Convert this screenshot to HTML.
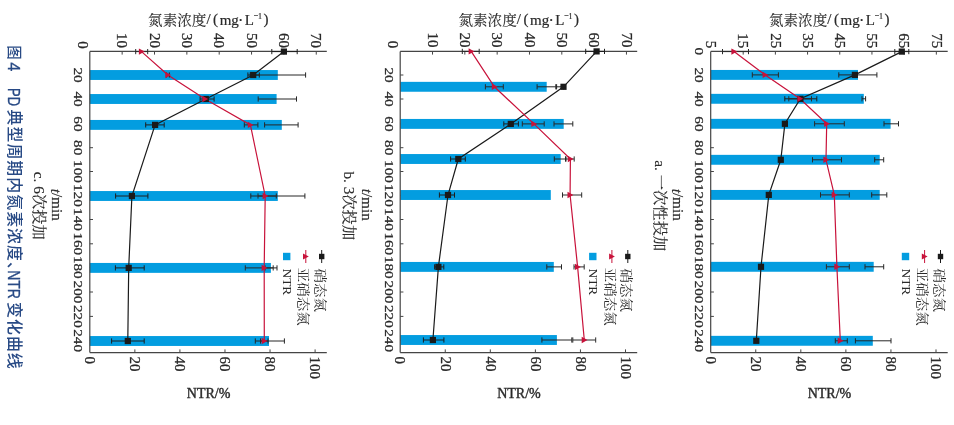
<!DOCTYPE html>
<html><head><meta charset="utf-8"><title>图4 PD典型周期内氮素浓度、NTR变化曲线</title>
<style>
html,body{margin:0;padding:0;background:#fff;}
body{width:954px;height:425px;overflow:hidden;position:relative;}
svg{position:absolute;left:0;top:0;display:block;filter:blur(0.35px);}
</style></head>
<body>
<svg width="954" height="425" viewBox="0 0 954 425">
<rect width="954" height="425" fill="#ffffff"/>
<text transform="translate(13.9,45.3) rotate(90)" dominant-baseline="central" font-size="14.5" font-weight="500" font-family='"Liberation Sans", "Noto Sans CJK SC", sans-serif' fill="#284a85">图</text>
<text transform="translate(14.4,62.3) rotate(90)" dominant-baseline="central" font-size="16.5" stroke="#284a85" stroke-width="0.35" font-family='"Liberation Sans", "Noto Sans CJK SC", sans-serif' fill="#284a85">4</text>
<text transform="translate(14.4,88.0) rotate(90)" dominant-baseline="central" font-size="16.5" stroke="#284a85" stroke-width="0.35" textLength="18" lengthAdjust="spacingAndGlyphs" font-family='"Liberation Sans", "Noto Sans CJK SC", sans-serif' fill="#284a85">PD</text>
<text transform="translate(14.2,109.5) rotate(90)" dominant-baseline="central" font-size="15.9" font-weight="500" letter-spacing="1.05" font-family='"Liberation Sans", "Noto Sans CJK SC", sans-serif' fill="#284a85">典型周期内氮素浓度、</text>
<text transform="translate(14.4,270.2) rotate(90)" dominant-baseline="central" font-size="16.5" stroke="#284a85" stroke-width="0.35" textLength="28.5" lengthAdjust="spacingAndGlyphs" font-family='"Liberation Sans", "Noto Sans CJK SC", sans-serif' fill="#284a85">NTR</text>
<text transform="translate(14.2,302.0) rotate(90)" dominant-baseline="central" font-size="15.9" font-weight="500" letter-spacing="1.05" font-family='"Liberation Sans", "Noto Sans CJK SC", sans-serif' fill="#284a85">变化曲线</text>
<path d="M122.15,51.4v3.2M154.5,51.4v3.2M186.85,51.4v3.2M219.2,51.4v3.2M251.55,51.4v3.2M283.9,51.4v3.2M316.25,51.4v3.2M89.8,75h3.2M89.8,99h3.2M89.8,123.9h3.2M89.8,147.7h3.2M89.8,171.5h3.2M89.8,195.4h3.2M89.8,219.5h3.2M89.8,243.8h3.2M89.8,267.3h3.2M89.8,292h3.2M89.8,316.4h3.2M89.8,340.6h3.2M134.86,352.6v-3.2M179.92,352.6v-3.2M224.98,352.6v-3.2M270.04,352.6v-3.2M315.1,352.6v-3.2" stroke="#454545" stroke-width="1" fill="none"/>
<rect x="89.8" y="70.05" width="188" height="9.9" fill="#039de0"/>
<rect x="89.8" y="94.05" width="186.8" height="9.9" fill="#039de0"/>
<rect x="89.8" y="119.95" width="192" height="9.9" fill="#039de0"/>
<rect x="89.8" y="191.05" width="188" height="9.9" fill="#039de0"/>
<rect x="89.8" y="262.95" width="181.1" height="9.9" fill="#039de0"/>
<rect x="89.8" y="336.05" width="179.2" height="9.9" fill="#039de0"/>
<path d="M250.2,75H305.6M250.2,72.4V77.6M305.6,72.4V77.6" stroke="#262626" stroke-width="1.0" fill="none"/>
<path d="M258.2,99H296.5M258.2,96.4V101.6M296.5,96.4V101.6" stroke="#262626" stroke-width="1.0" fill="none"/>
<path d="M264.6,124.9H298.1M264.6,122.3V127.5M298.1,122.3V127.5" stroke="#262626" stroke-width="1.0" fill="none"/>
<path d="M250.8,196H304.9M250.8,193.4V198.6M304.9,193.4V198.6" stroke="#262626" stroke-width="1.0" fill="none"/>
<path d="M265,267.9H277M265,265.3V270.5M277,265.3V270.5" stroke="#262626" stroke-width="1.0" fill="none"/>
<path d="M255.3,341H284.4M255.3,338.4V343.6M284.4,338.4V343.6" stroke="#262626" stroke-width="1.0" fill="none"/>
<path d="M89.8,51.4H326.8M89.8,352.6H326.8M89.8,51.4V352.6" stroke="#454545" stroke-width="1.2" fill="none"/>
<text transform="translate(122.15,48) rotate(90) scale(1.1,1)" text-anchor="end" dominant-baseline="central" font-size="13.6" font-family='"Liberation Serif", "Noto Serif CJK SC", serif' fill="#2a2a2a" stroke="#2a2a2a" stroke-width="0.25">10</text>
<text transform="translate(154.5,48) rotate(90) scale(1.1,1)" text-anchor="end" dominant-baseline="central" font-size="13.6" font-family='"Liberation Serif", "Noto Serif CJK SC", serif' fill="#2a2a2a" stroke="#2a2a2a" stroke-width="0.25">20</text>
<text transform="translate(186.85,48) rotate(90) scale(1.1,1)" text-anchor="end" dominant-baseline="central" font-size="13.6" font-family='"Liberation Serif", "Noto Serif CJK SC", serif' fill="#2a2a2a" stroke="#2a2a2a" stroke-width="0.25">30</text>
<text transform="translate(219.2,48) rotate(90) scale(1.1,1)" text-anchor="end" dominant-baseline="central" font-size="13.6" font-family='"Liberation Serif", "Noto Serif CJK SC", serif' fill="#2a2a2a" stroke="#2a2a2a" stroke-width="0.25">40</text>
<text transform="translate(251.55,48) rotate(90) scale(1.1,1)" text-anchor="end" dominant-baseline="central" font-size="13.6" font-family='"Liberation Serif", "Noto Serif CJK SC", serif' fill="#2a2a2a" stroke="#2a2a2a" stroke-width="0.25">50</text>
<text transform="translate(283.9,48) rotate(90) scale(1.1,1)" text-anchor="end" dominant-baseline="central" font-size="13.6" font-family='"Liberation Serif", "Noto Serif CJK SC", serif' fill="#2a2a2a" stroke="#2a2a2a" stroke-width="0.25">60</text>
<text transform="translate(316.25,48) rotate(90) scale(1.1,1)" text-anchor="end" dominant-baseline="central" font-size="13.6" font-family='"Liberation Serif", "Noto Serif CJK SC", serif' fill="#2a2a2a" stroke="#2a2a2a" stroke-width="0.25">70</text>
<text transform="translate(82.4,48.8) rotate(90) scale(1.1,1)" text-anchor="end" dominant-baseline="central" font-size="13.6" font-family='"Liberation Serif", "Noto Serif CJK SC", serif' fill="#2a2a2a" stroke="#2a2a2a" stroke-width="0.25">0</text>
<text transform="translate(78.9,75) rotate(90) scale(1.135,1)" text-anchor="middle" dominant-baseline="central" font-size="13.4" font-family='"Liberation Serif", "Noto Serif CJK SC", serif' fill="#2a2a2a" stroke="#2a2a2a" stroke-width="0.25">20</text>
<text transform="translate(78.9,99) rotate(90) scale(1.135,1)" text-anchor="middle" dominant-baseline="central" font-size="13.4" font-family='"Liberation Serif", "Noto Serif CJK SC", serif' fill="#2a2a2a" stroke="#2a2a2a" stroke-width="0.25">40</text>
<text transform="translate(78.9,123.9) rotate(90) scale(1.135,1)" text-anchor="middle" dominant-baseline="central" font-size="13.4" font-family='"Liberation Serif", "Noto Serif CJK SC", serif' fill="#2a2a2a" stroke="#2a2a2a" stroke-width="0.25">60</text>
<text transform="translate(78.9,147.7) rotate(90) scale(1.135,1)" text-anchor="middle" dominant-baseline="central" font-size="13.4" font-family='"Liberation Serif", "Noto Serif CJK SC", serif' fill="#2a2a2a" stroke="#2a2a2a" stroke-width="0.25">80</text>
<text transform="translate(78.9,171.5) rotate(90) scale(1.135,1)" text-anchor="middle" dominant-baseline="central" font-size="13.4" font-family='"Liberation Serif", "Noto Serif CJK SC", serif' fill="#2a2a2a" stroke="#2a2a2a" stroke-width="0.25">100</text>
<text transform="translate(78.9,195.4) rotate(90) scale(1.135,1)" text-anchor="middle" dominant-baseline="central" font-size="13.4" font-family='"Liberation Serif", "Noto Serif CJK SC", serif' fill="#2a2a2a" stroke="#2a2a2a" stroke-width="0.25">120</text>
<text transform="translate(78.9,219.5) rotate(90) scale(1.135,1)" text-anchor="middle" dominant-baseline="central" font-size="13.4" font-family='"Liberation Serif", "Noto Serif CJK SC", serif' fill="#2a2a2a" stroke="#2a2a2a" stroke-width="0.25">140</text>
<text transform="translate(78.9,243.8) rotate(90) scale(1.135,1)" text-anchor="middle" dominant-baseline="central" font-size="13.4" font-family='"Liberation Serif", "Noto Serif CJK SC", serif' fill="#2a2a2a" stroke="#2a2a2a" stroke-width="0.25">160</text>
<text transform="translate(78.9,267.3) rotate(90) scale(1.135,1)" text-anchor="middle" dominant-baseline="central" font-size="13.4" font-family='"Liberation Serif", "Noto Serif CJK SC", serif' fill="#2a2a2a" stroke="#2a2a2a" stroke-width="0.25">180</text>
<text transform="translate(78.9,292) rotate(90) scale(1.135,1)" text-anchor="middle" dominant-baseline="central" font-size="13.4" font-family='"Liberation Serif", "Noto Serif CJK SC", serif' fill="#2a2a2a" stroke="#2a2a2a" stroke-width="0.25">200</text>
<text transform="translate(78.9,316.4) rotate(90) scale(1.135,1)" text-anchor="middle" dominant-baseline="central" font-size="13.4" font-family='"Liberation Serif", "Noto Serif CJK SC", serif' fill="#2a2a2a" stroke="#2a2a2a" stroke-width="0.25">220</text>
<text transform="translate(78.9,340.6) rotate(90) scale(1.135,1)" text-anchor="middle" dominant-baseline="central" font-size="13.4" font-family='"Liberation Serif", "Noto Serif CJK SC", serif' fill="#2a2a2a" stroke="#2a2a2a" stroke-width="0.25">240</text>
<text transform="translate(89.8,356.6) rotate(90) scale(1.1,1)" text-anchor="start" dominant-baseline="central" font-size="13.6" font-family='"Liberation Serif", "Noto Serif CJK SC", serif' fill="#2a2a2a" stroke="#2a2a2a" stroke-width="0.25">0</text>
<text transform="translate(134.86,356.6) rotate(90) scale(1.1,1)" text-anchor="start" dominant-baseline="central" font-size="13.6" font-family='"Liberation Serif", "Noto Serif CJK SC", serif' fill="#2a2a2a" stroke="#2a2a2a" stroke-width="0.25">20</text>
<text transform="translate(179.92,356.6) rotate(90) scale(1.1,1)" text-anchor="start" dominant-baseline="central" font-size="13.6" font-family='"Liberation Serif", "Noto Serif CJK SC", serif' fill="#2a2a2a" stroke="#2a2a2a" stroke-width="0.25">40</text>
<text transform="translate(224.98,356.6) rotate(90) scale(1.1,1)" text-anchor="start" dominant-baseline="central" font-size="13.6" font-family='"Liberation Serif", "Noto Serif CJK SC", serif' fill="#2a2a2a" stroke="#2a2a2a" stroke-width="0.25">60</text>
<text transform="translate(270.04,356.6) rotate(90) scale(1.1,1)" text-anchor="start" dominant-baseline="central" font-size="13.6" font-family='"Liberation Serif", "Noto Serif CJK SC", serif' fill="#2a2a2a" stroke="#2a2a2a" stroke-width="0.25">80</text>
<text transform="translate(315.1,356.6) rotate(90) scale(1.1,1)" text-anchor="start" dominant-baseline="central" font-size="13.6" font-family='"Liberation Serif", "Noto Serif CJK SC", serif' fill="#2a2a2a" stroke="#2a2a2a" stroke-width="0.25">100</text>
<path d="M283.9,51.6L253.2,75L205.8,99L155.1,124.9L131.9,196L128.7,267.9L127.8,341" stroke="#1a1a1a" stroke-width="1.2" fill="none"/>
<path d="M141.5,51.6L167.9,75L205,99L250.4,124.9L265.2,196L264.2,267.9L264.3,341" stroke="#c8123a" stroke-width="1.2" fill="none"/>
<path d="M271.8,51.6H297.2M271.8,49V54.2M297.2,49V54.2" stroke="#1e1e1e" stroke-width="1.0" fill="none"/>
<path d="M247.9,75H259.3M247.9,72.4V77.6M259.3,72.4V77.6" stroke="#1e1e1e" stroke-width="1.0" fill="none"/>
<path d="M200.1,99H214.1M200.1,96.4V101.6M214.1,96.4V101.6" stroke="#1e1e1e" stroke-width="1.0" fill="none"/>
<path d="M145.7,124.9H164.2M145.7,122.3V127.5M164.2,122.3V127.5" stroke="#1e1e1e" stroke-width="1.0" fill="none"/>
<path d="M115.6,196H147.9M115.6,193.4V198.6M147.9,193.4V198.6" stroke="#1e1e1e" stroke-width="1.0" fill="none"/>
<path d="M115.4,267.9H144.2M115.4,265.3V270.5M144.2,265.3V270.5" stroke="#1e1e1e" stroke-width="1.0" fill="none"/>
<path d="M111.6,341H144.2M111.6,338.4V343.6M144.2,338.4V343.6" stroke="#1e1e1e" stroke-width="1.0" fill="none"/>
<path d="M135.7,51.6H147.7M135.7,49V54.2M147.7,49V54.2" stroke="#2a2a2a" stroke-width="1.0" fill="none"/>
<path d="M166.4,75H169.4M166.4,72.4V77.6M169.4,72.4V77.6" stroke="#2a2a2a" stroke-width="1.0" fill="none"/>
<path d="M244.3,124.9H257.9M244.3,122.3V127.5M257.9,122.3V127.5" stroke="#2a2a2a" stroke-width="1.0" fill="none"/>
<path d="M258,196H276.3M258,193.4V198.6M276.3,193.4V198.6" stroke="#2a2a2a" stroke-width="1.0" fill="none"/>
<path d="M245.3,267.9H273.2M245.3,265.3V270.5M273.2,265.3V270.5" stroke="#2a2a2a" stroke-width="1.0" fill="none"/>
<path d="M260.5,341H268M260.5,338.4V343.6M268,338.4V343.6" stroke="#2a2a2a" stroke-width="1.0" fill="none"/>
<rect x="280.8" y="48.5" width="6.2" height="6.2" fill="#1a1a1a"/>
<rect x="250.1" y="71.9" width="6.2" height="6.2" fill="#1a1a1a"/>
<rect x="202.7" y="95.9" width="6.2" height="6.2" fill="#1a1a1a"/>
<rect x="152" y="121.8" width="6.2" height="6.2" fill="#1a1a1a"/>
<rect x="128.8" y="192.9" width="6.2" height="6.2" fill="#1a1a1a"/>
<rect x="125.6" y="264.8" width="6.2" height="6.2" fill="#1a1a1a"/>
<rect x="124.7" y="337.9" width="6.2" height="6.2" fill="#1a1a1a"/>
<path d="M144.7,51.6L138.9,48.4L138.9,54.8Z" fill="#c8123a"/>
<path d="M171.1,75L165.3,71.8L165.3,78.2Z" fill="#c8123a"/>
<path d="M208.2,99L202.4,95.8L202.4,102.2Z" fill="#c8123a"/>
<path d="M253.6,124.9L247.8,121.7L247.8,128.1Z" fill="#c8123a"/>
<path d="M268.4,196L262.6,192.8L262.6,199.2Z" fill="#c8123a"/>
<path d="M267.4,267.9L261.6,264.7L261.6,271.1Z" fill="#c8123a"/>
<path d="M267.5,341L261.7,337.8L261.7,344.2Z" fill="#c8123a"/>
<path d="M321.7,250V263" stroke="#1a1a1a" stroke-width="1"/>
<rect x="319" y="253.8" width="5.4" height="5.4" fill="#1a1a1a"/>
<path d="M305.8,250V263" stroke="#c8123a" stroke-width="1"/>
<path d="M308.8,256.5L303,253.5L303,259.5Z" fill="#c8123a"/>
<rect x="283" y="252.8" width="7.4" height="7.4" fill="#039de0"/>
<text transform="translate(320.2,268.5) rotate(90) scale(1.15,1)" text-anchor="start" dominant-baseline="central" font-size="12.6" font-family='"Liberation Serif", "Noto Serif CJK SC", serif' fill="#2a2a2a">硝态氮</text>
<text transform="translate(303.6,267.8) rotate(90) scale(1.15,1)" text-anchor="start" dominant-baseline="central" font-size="12.6" font-family='"Liberation Serif", "Noto Serif CJK SC", serif' fill="#2a2a2a">亚硝态氮</text>
<text transform="translate(286.7,268.5) rotate(90) scale(1.1,1)" text-anchor="start" dominant-baseline="central" font-size="12.2" font-family='"Liberation Serif", "Noto Serif CJK SC", serif' fill="#2a2a2a">NTR</text>
<text fill="#2a2a2a" stroke="#2a2a2a" stroke-width="0.2"><tspan x="206.4" y="24.3" font-size="15" font-family='"Liberation Serif", "Noto Serif CJK SC", serif'>/</tspan><tspan x="213" y="23.9" font-size="15" font-family='"Liberation Serif", "Noto Serif CJK SC", serif'>(</tspan><tspan x="219.7" y="24.9" font-size="15" font-family='"Liberation Serif", "Noto Serif CJK SC", serif'>mg</tspan><tspan x="238.1" y="26.2" font-size="16" font-family='"Liberation Serif", "Noto Serif CJK SC", serif'>·</tspan><tspan x="244.8" y="24.9" font-size="15" font-family='"Liberation Serif", "Noto Serif CJK SC", serif'>L</tspan><tspan x="253.8" y="18.4" font-size="8" font-family='"Liberation Serif", "Noto Serif CJK SC", serif'>−</tspan><tspan x="258" y="19" font-size="8" font-family='"Liberation Serif", "Noto Serif CJK SC", serif'>1</tspan><tspan x="263.5" y="23.9" font-size="15" font-family='"Liberation Serif", "Noto Serif CJK SC", serif'>)</tspan></text>
<text transform="translate(148.1,24.9) scale(1.07,1)" font-size="13.6" font-family='"Liberation Serif", "Noto Serif CJK SC", serif' fill="#2a2a2a" stroke="#2a2a2a" stroke-width="0.1">氮素浓度</text>
<text x="186.8" y="397.8" font-size="14.4" stroke="#2a2a2a" stroke-width="0.4" textLength="43.6" lengthAdjust="spacingAndGlyphs" font-family='"Liberation Serif", "Noto Serif CJK SC", serif' fill="#2a2a2a">NTR/%</text>
<text transform="translate(57.3,204.7) rotate(90)" text-anchor="middle" dominant-baseline="central" font-size="15.2" font-family='"Liberation Serif", "Noto Serif CJK SC", serif' fill="#2a2a2a" stroke="#2a2a2a" stroke-width="0.2"><tspan font-style="italic">t</tspan>/min</text>
<text transform="translate(39.5,205.8) rotate(90)" text-anchor="middle" dominant-baseline="central" font-size="15.3" font-family='"Liberation Serif", "Noto Serif CJK SC", serif' fill="#2a2a2a" stroke="#2a2a2a" stroke-width="0.15">c. 6次投加</text>
<path d="M432.52,51.4v3.2M464.84,51.4v3.2M497.16,51.4v3.2M529.48,51.4v3.2M561.8,51.4v3.2M594.12,51.4v3.2M626.44,51.4v3.2M400.2,75h3.2M400.2,99h3.2M400.2,123.9h3.2M400.2,147.7h3.2M400.2,171.5h3.2M400.2,195.4h3.2M400.2,219.5h3.2M400.2,243.8h3.2M400.2,267.3h3.2M400.2,292h3.2M400.2,316.4h3.2M400.2,340.6h3.2M445.26,352.6v-3.2M490.32,352.6v-3.2M535.38,352.6v-3.2M580.44,352.6v-3.2M625.5,352.6v-3.2" stroke="#454545" stroke-width="1" fill="none"/>
<rect x="400.2" y="81.85" width="146.5" height="9.9" fill="#039de0"/>
<rect x="400.2" y="118.95" width="163.5" height="9.9" fill="#039de0"/>
<rect x="400.2" y="154.05" width="160.5" height="9.9" fill="#039de0"/>
<rect x="400.2" y="190.05" width="150.6" height="9.9" fill="#039de0"/>
<rect x="400.2" y="261.95" width="153.6" height="9.9" fill="#039de0"/>
<rect x="400.2" y="335.05" width="156.7" height="9.9" fill="#039de0"/>
<path d="M537.1,86.8H555.8M537.1,84.2V89.4M555.8,84.2V89.4" stroke="#262626" stroke-width="1.0" fill="none"/>
<path d="M554,123.9H572.8M554,121.3V126.5M572.8,121.3V126.5" stroke="#262626" stroke-width="1.0" fill="none"/>
<path d="M554.3,159H565.5M554.3,156.4V161.6M565.5,156.4V161.6" stroke="#262626" stroke-width="1.0" fill="none"/>
<path d="M546.8,266.9H561.5M546.8,264.3V269.5M561.5,264.3V269.5" stroke="#262626" stroke-width="1.0" fill="none"/>
<path d="M541.9,340H571.8M541.9,337.4V342.6M571.8,337.4V342.6" stroke="#262626" stroke-width="1.0" fill="none"/>
<path d="M400.2,51.4H637.2M400.2,352.6H637.2M400.2,51.4V352.6" stroke="#454545" stroke-width="1.2" fill="none"/>
<text transform="translate(432.52,47.4) rotate(90) scale(1.1,1)" text-anchor="end" dominant-baseline="central" font-size="13.6" font-family='"Liberation Serif", "Noto Serif CJK SC", serif' fill="#2a2a2a" stroke="#2a2a2a" stroke-width="0.25">10</text>
<text transform="translate(464.84,47.4) rotate(90) scale(1.1,1)" text-anchor="end" dominant-baseline="central" font-size="13.6" font-family='"Liberation Serif", "Noto Serif CJK SC", serif' fill="#2a2a2a" stroke="#2a2a2a" stroke-width="0.25">20</text>
<text transform="translate(497.16,47.4) rotate(90) scale(1.1,1)" text-anchor="end" dominant-baseline="central" font-size="13.6" font-family='"Liberation Serif", "Noto Serif CJK SC", serif' fill="#2a2a2a" stroke="#2a2a2a" stroke-width="0.25">30</text>
<text transform="translate(529.48,47.4) rotate(90) scale(1.1,1)" text-anchor="end" dominant-baseline="central" font-size="13.6" font-family='"Liberation Serif", "Noto Serif CJK SC", serif' fill="#2a2a2a" stroke="#2a2a2a" stroke-width="0.25">40</text>
<text transform="translate(561.8,47.4) rotate(90) scale(1.1,1)" text-anchor="end" dominant-baseline="central" font-size="13.6" font-family='"Liberation Serif", "Noto Serif CJK SC", serif' fill="#2a2a2a" stroke="#2a2a2a" stroke-width="0.25">50</text>
<text transform="translate(594.12,47.4) rotate(90) scale(1.1,1)" text-anchor="end" dominant-baseline="central" font-size="13.6" font-family='"Liberation Serif", "Noto Serif CJK SC", serif' fill="#2a2a2a" stroke="#2a2a2a" stroke-width="0.25">60</text>
<text transform="translate(626.44,47.4) rotate(90) scale(1.1,1)" text-anchor="end" dominant-baseline="central" font-size="13.6" font-family='"Liberation Serif", "Noto Serif CJK SC", serif' fill="#2a2a2a" stroke="#2a2a2a" stroke-width="0.25">70</text>
<text transform="translate(392.8,48.2) rotate(90) scale(1.1,1)" text-anchor="end" dominant-baseline="central" font-size="13.6" font-family='"Liberation Serif", "Noto Serif CJK SC", serif' fill="#2a2a2a" stroke="#2a2a2a" stroke-width="0.25">0</text>
<text transform="translate(389.3,75) rotate(90) scale(1.135,1)" text-anchor="middle" dominant-baseline="central" font-size="13.4" font-family='"Liberation Serif", "Noto Serif CJK SC", serif' fill="#2a2a2a" stroke="#2a2a2a" stroke-width="0.25">20</text>
<text transform="translate(389.3,99) rotate(90) scale(1.135,1)" text-anchor="middle" dominant-baseline="central" font-size="13.4" font-family='"Liberation Serif", "Noto Serif CJK SC", serif' fill="#2a2a2a" stroke="#2a2a2a" stroke-width="0.25">40</text>
<text transform="translate(389.3,123.9) rotate(90) scale(1.135,1)" text-anchor="middle" dominant-baseline="central" font-size="13.4" font-family='"Liberation Serif", "Noto Serif CJK SC", serif' fill="#2a2a2a" stroke="#2a2a2a" stroke-width="0.25">60</text>
<text transform="translate(389.3,147.7) rotate(90) scale(1.135,1)" text-anchor="middle" dominant-baseline="central" font-size="13.4" font-family='"Liberation Serif", "Noto Serif CJK SC", serif' fill="#2a2a2a" stroke="#2a2a2a" stroke-width="0.25">80</text>
<text transform="translate(389.3,171.5) rotate(90) scale(1.135,1)" text-anchor="middle" dominant-baseline="central" font-size="13.4" font-family='"Liberation Serif", "Noto Serif CJK SC", serif' fill="#2a2a2a" stroke="#2a2a2a" stroke-width="0.25">100</text>
<text transform="translate(389.3,195.4) rotate(90) scale(1.135,1)" text-anchor="middle" dominant-baseline="central" font-size="13.4" font-family='"Liberation Serif", "Noto Serif CJK SC", serif' fill="#2a2a2a" stroke="#2a2a2a" stroke-width="0.25">120</text>
<text transform="translate(389.3,219.5) rotate(90) scale(1.135,1)" text-anchor="middle" dominant-baseline="central" font-size="13.4" font-family='"Liberation Serif", "Noto Serif CJK SC", serif' fill="#2a2a2a" stroke="#2a2a2a" stroke-width="0.25">140</text>
<text transform="translate(389.3,243.8) rotate(90) scale(1.135,1)" text-anchor="middle" dominant-baseline="central" font-size="13.4" font-family='"Liberation Serif", "Noto Serif CJK SC", serif' fill="#2a2a2a" stroke="#2a2a2a" stroke-width="0.25">160</text>
<text transform="translate(389.3,267.3) rotate(90) scale(1.135,1)" text-anchor="middle" dominant-baseline="central" font-size="13.4" font-family='"Liberation Serif", "Noto Serif CJK SC", serif' fill="#2a2a2a" stroke="#2a2a2a" stroke-width="0.25">180</text>
<text transform="translate(389.3,292) rotate(90) scale(1.135,1)" text-anchor="middle" dominant-baseline="central" font-size="13.4" font-family='"Liberation Serif", "Noto Serif CJK SC", serif' fill="#2a2a2a" stroke="#2a2a2a" stroke-width="0.25">200</text>
<text transform="translate(389.3,316.4) rotate(90) scale(1.135,1)" text-anchor="middle" dominant-baseline="central" font-size="13.4" font-family='"Liberation Serif", "Noto Serif CJK SC", serif' fill="#2a2a2a" stroke="#2a2a2a" stroke-width="0.25">220</text>
<text transform="translate(389.3,340.6) rotate(90) scale(1.135,1)" text-anchor="middle" dominant-baseline="central" font-size="13.4" font-family='"Liberation Serif", "Noto Serif CJK SC", serif' fill="#2a2a2a" stroke="#2a2a2a" stroke-width="0.25">240</text>
<text transform="translate(400.2,356.6) rotate(90) scale(1.1,1)" text-anchor="start" dominant-baseline="central" font-size="13.6" font-family='"Liberation Serif", "Noto Serif CJK SC", serif' fill="#2a2a2a" stroke="#2a2a2a" stroke-width="0.25">0</text>
<text transform="translate(445.26,356.6) rotate(90) scale(1.1,1)" text-anchor="start" dominant-baseline="central" font-size="13.6" font-family='"Liberation Serif", "Noto Serif CJK SC", serif' fill="#2a2a2a" stroke="#2a2a2a" stroke-width="0.25">20</text>
<text transform="translate(490.32,356.6) rotate(90) scale(1.1,1)" text-anchor="start" dominant-baseline="central" font-size="13.6" font-family='"Liberation Serif", "Noto Serif CJK SC", serif' fill="#2a2a2a" stroke="#2a2a2a" stroke-width="0.25">40</text>
<text transform="translate(535.38,356.6) rotate(90) scale(1.1,1)" text-anchor="start" dominant-baseline="central" font-size="13.6" font-family='"Liberation Serif", "Noto Serif CJK SC", serif' fill="#2a2a2a" stroke="#2a2a2a" stroke-width="0.25">60</text>
<text transform="translate(580.44,356.6) rotate(90) scale(1.1,1)" text-anchor="start" dominant-baseline="central" font-size="13.6" font-family='"Liberation Serif", "Noto Serif CJK SC", serif' fill="#2a2a2a" stroke="#2a2a2a" stroke-width="0.25">80</text>
<text transform="translate(625.5,356.6) rotate(90) scale(1.1,1)" text-anchor="start" dominant-baseline="central" font-size="13.6" font-family='"Liberation Serif", "Noto Serif CJK SC", serif' fill="#2a2a2a" stroke="#2a2a2a" stroke-width="0.25">100</text>
<path d="M596.6,51.4L563.5,86.8L510.8,123.9L458.3,159L448,195L438.4,266.9L432.9,340" stroke="#1a1a1a" stroke-width="1.2" fill="none"/>
<path d="M471.2,51.4L494.4,86.8L533.9,123.9L570.4,159L570.1,195L577.6,266.9L584.3,340" stroke="#c8123a" stroke-width="1.2" fill="none"/>
<path d="M585.7,51.4H604.5M585.7,48.8V54M604.5,48.8V54" stroke="#1e1e1e" stroke-width="1.0" fill="none"/>
<path d="M556.6,86.8H563.5M556.6,84.2V89.4M563.5,84.2V89.4" stroke="#1e1e1e" stroke-width="1.0" fill="none"/>
<path d="M503.8,123.9H518.4M503.8,121.3V126.5M518.4,121.3V126.5" stroke="#1e1e1e" stroke-width="1.0" fill="none"/>
<path d="M450.6,159H465.3M450.6,156.4V161.6M465.3,156.4V161.6" stroke="#1e1e1e" stroke-width="1.0" fill="none"/>
<path d="M439.4,195H454.5M439.4,192.4V197.6M454.5,192.4V197.6" stroke="#1e1e1e" stroke-width="1.0" fill="none"/>
<path d="M434.6,266.9H443.8M434.6,264.3V269.5M443.8,264.3V269.5" stroke="#1e1e1e" stroke-width="1.0" fill="none"/>
<path d="M423.4,340H443.9M423.4,337.4V342.6M443.9,337.4V342.6" stroke="#1e1e1e" stroke-width="1.0" fill="none"/>
<path d="M462.3,51.4H479.2M462.3,48.8V54M479.2,48.8V54" stroke="#2a2a2a" stroke-width="1.0" fill="none"/>
<path d="M485.4,86.8H503.3M485.4,84.2V89.4M503.3,84.2V89.4" stroke="#2a2a2a" stroke-width="1.0" fill="none"/>
<path d="M522.3,123.9H544.2M522.3,121.3V126.5M544.2,121.3V126.5" stroke="#2a2a2a" stroke-width="1.0" fill="none"/>
<path d="M566,159H574.2M566,156.4V161.6M574.2,156.4V161.6" stroke="#2a2a2a" stroke-width="1.0" fill="none"/>
<path d="M562.5,195H581.7M562.5,192.4V197.6M581.7,192.4V197.6" stroke="#2a2a2a" stroke-width="1.0" fill="none"/>
<path d="M574,266.9H584.2M574,264.3V269.5M584.2,264.3V269.5" stroke="#2a2a2a" stroke-width="1.0" fill="none"/>
<path d="M572.8,340H595.7M572.8,337.4V342.6M595.7,337.4V342.6" stroke="#2a2a2a" stroke-width="1.0" fill="none"/>
<rect x="593.5" y="48.3" width="6.2" height="6.2" fill="#1a1a1a"/>
<rect x="560.4" y="83.7" width="6.2" height="6.2" fill="#1a1a1a"/>
<rect x="507.7" y="120.8" width="6.2" height="6.2" fill="#1a1a1a"/>
<rect x="455.2" y="155.9" width="6.2" height="6.2" fill="#1a1a1a"/>
<rect x="444.9" y="191.9" width="6.2" height="6.2" fill="#1a1a1a"/>
<rect x="435.3" y="263.8" width="6.2" height="6.2" fill="#1a1a1a"/>
<rect x="429.8" y="336.9" width="6.2" height="6.2" fill="#1a1a1a"/>
<path d="M474.4,51.4L468.6,48.2L468.6,54.6Z" fill="#c8123a"/>
<path d="M497.6,86.8L491.8,83.6L491.8,90Z" fill="#c8123a"/>
<path d="M537.1,123.9L531.3,120.7L531.3,127.1Z" fill="#c8123a"/>
<path d="M573.6,159L567.8,155.8L567.8,162.2Z" fill="#c8123a"/>
<path d="M573.3,195L567.5,191.8L567.5,198.2Z" fill="#c8123a"/>
<path d="M580.8,266.9L575,263.7L575,270.1Z" fill="#c8123a"/>
<path d="M587.5,340L581.7,336.8L581.7,343.2Z" fill="#c8123a"/>
<path d="M627.8,250V263" stroke="#1a1a1a" stroke-width="1"/>
<rect x="625.1" y="253.8" width="5.4" height="5.4" fill="#1a1a1a"/>
<path d="M611.9,250V263" stroke="#c8123a" stroke-width="1"/>
<path d="M614.9,256.5L609.1,253.5L609.1,259.5Z" fill="#c8123a"/>
<rect x="589.1" y="252.8" width="7.4" height="7.4" fill="#039de0"/>
<text transform="translate(626.3,268.5) rotate(90) scale(1.15,1)" text-anchor="start" dominant-baseline="central" font-size="12.6" font-family='"Liberation Serif", "Noto Serif CJK SC", serif' fill="#2a2a2a">硝态氮</text>
<text transform="translate(609.7,267.8) rotate(90) scale(1.15,1)" text-anchor="start" dominant-baseline="central" font-size="12.6" font-family='"Liberation Serif", "Noto Serif CJK SC", serif' fill="#2a2a2a">亚硝态氮</text>
<text transform="translate(592.8,268.5) rotate(90) scale(1.1,1)" text-anchor="start" dominant-baseline="central" font-size="12.2" font-family='"Liberation Serif", "Noto Serif CJK SC", serif' fill="#2a2a2a">NTR</text>
<text fill="#2a2a2a" stroke="#2a2a2a" stroke-width="0.2"><tspan x="516.8" y="24.3" font-size="15" font-family='"Liberation Serif", "Noto Serif CJK SC", serif'>/</tspan><tspan x="523.4" y="23.9" font-size="15" font-family='"Liberation Serif", "Noto Serif CJK SC", serif'>(</tspan><tspan x="530.1" y="24.9" font-size="15" font-family='"Liberation Serif", "Noto Serif CJK SC", serif'>mg</tspan><tspan x="548.5" y="26.2" font-size="16" font-family='"Liberation Serif", "Noto Serif CJK SC", serif'>·</tspan><tspan x="555.2" y="24.9" font-size="15" font-family='"Liberation Serif", "Noto Serif CJK SC", serif'>L</tspan><tspan x="564.2" y="18.4" font-size="8" font-family='"Liberation Serif", "Noto Serif CJK SC", serif'>−</tspan><tspan x="568.4" y="19" font-size="8" font-family='"Liberation Serif", "Noto Serif CJK SC", serif'>1</tspan><tspan x="573.9" y="23.9" font-size="15" font-family='"Liberation Serif", "Noto Serif CJK SC", serif'>)</tspan></text>
<text transform="translate(458.5,24.9) scale(1.07,1)" font-size="13.6" font-family='"Liberation Serif", "Noto Serif CJK SC", serif' fill="#2a2a2a" stroke="#2a2a2a" stroke-width="0.1">氮素浓度</text>
<text x="497.2" y="397.8" font-size="14.4" stroke="#2a2a2a" stroke-width="0.4" textLength="43.6" lengthAdjust="spacingAndGlyphs" font-family='"Liberation Serif", "Noto Serif CJK SC", serif' fill="#2a2a2a">NTR/%</text>
<text transform="translate(367.7,204.7) rotate(90)" text-anchor="middle" dominant-baseline="central" font-size="15.2" font-family='"Liberation Serif", "Noto Serif CJK SC", serif' fill="#2a2a2a" stroke="#2a2a2a" stroke-width="0.2"><tspan font-style="italic">t</tspan>/min</text>
<text transform="translate(349.9,205.8) rotate(90)" text-anchor="middle" dominant-baseline="central" font-size="15.3" font-family='"Liberation Serif", "Noto Serif CJK SC", serif' fill="#2a2a2a" stroke="#2a2a2a" stroke-width="0.15">b. 3次投加</text>
<path d="M743.19,51.4v3.2M775.38,51.4v3.2M807.57,51.4v3.2M839.76,51.4v3.2M871.95,51.4v3.2M904.14,51.4v3.2M936.33,51.4v3.2M710.7,75h3.2M710.7,99h3.2M710.7,123.9h3.2M710.7,147.7h3.2M710.7,171.5h3.2M710.7,195.4h3.2M710.7,219.5h3.2M710.7,243.8h3.2M710.7,267.3h3.2M710.7,292h3.2M710.7,316.4h3.2M710.7,340.6h3.2M755.76,352.6v-3.2M800.82,352.6v-3.2M845.88,352.6v-3.2M890.94,352.6v-3.2M936,352.6v-3.2" stroke="#454545" stroke-width="1" fill="none"/>
<rect x="710.7" y="69.95" width="147.3" height="9.9" fill="#039de0"/>
<rect x="710.7" y="93.85" width="153.1" height="9.9" fill="#039de0"/>
<rect x="710.7" y="118.85" width="179.9" height="9.9" fill="#039de0"/>
<rect x="710.7" y="154.85" width="169" height="9.9" fill="#039de0"/>
<rect x="710.7" y="189.95" width="169" height="9.9" fill="#039de0"/>
<rect x="710.7" y="261.85" width="163" height="9.9" fill="#039de0"/>
<rect x="710.7" y="335.85" width="162.1" height="9.9" fill="#039de0"/>
<path d="M838.8,74.9H876.9M838.8,72.3V77.5M876.9,72.3V77.5" stroke="#262626" stroke-width="1.0" fill="none"/>
<path d="M862,98.8H865.6M862,96.2V101.4M865.6,96.2V101.4" stroke="#262626" stroke-width="1.0" fill="none"/>
<path d="M884,123.8H898.5M884,121.2V126.4M898.5,121.2V126.4" stroke="#262626" stroke-width="1.0" fill="none"/>
<path d="M874.7,159.8H883.7M874.7,157.2V162.4M883.7,157.2V162.4" stroke="#262626" stroke-width="1.0" fill="none"/>
<path d="M871.7,194.9H886.8M871.7,192.3V197.5M886.8,192.3V197.5" stroke="#262626" stroke-width="1.0" fill="none"/>
<path d="M865,266.8H883.7M865,264.2V269.4M883.7,264.2V269.4" stroke="#262626" stroke-width="1.0" fill="none"/>
<path d="M855.4,340.8H891M855.4,338.2V343.4M891,338.2V343.4" stroke="#262626" stroke-width="1.0" fill="none"/>
<path d="M710.7,51.4H947.7M710.7,352.6H947.7M710.7,51.4V352.6" stroke="#454545" stroke-width="1.2" fill="none"/>
<text transform="translate(743.19,48.2) rotate(90) scale(1.1,1)" text-anchor="end" dominant-baseline="central" font-size="13.6" font-family='"Liberation Serif", "Noto Serif CJK SC", serif' fill="#2a2a2a" stroke="#2a2a2a" stroke-width="0.25">15</text>
<text transform="translate(775.38,48.2) rotate(90) scale(1.1,1)" text-anchor="end" dominant-baseline="central" font-size="13.6" font-family='"Liberation Serif", "Noto Serif CJK SC", serif' fill="#2a2a2a" stroke="#2a2a2a" stroke-width="0.25">25</text>
<text transform="translate(807.57,48.2) rotate(90) scale(1.1,1)" text-anchor="end" dominant-baseline="central" font-size="13.6" font-family='"Liberation Serif", "Noto Serif CJK SC", serif' fill="#2a2a2a" stroke="#2a2a2a" stroke-width="0.25">35</text>
<text transform="translate(839.76,48.2) rotate(90) scale(1.1,1)" text-anchor="end" dominant-baseline="central" font-size="13.6" font-family='"Liberation Serif", "Noto Serif CJK SC", serif' fill="#2a2a2a" stroke="#2a2a2a" stroke-width="0.25">45</text>
<text transform="translate(871.95,48.2) rotate(90) scale(1.1,1)" text-anchor="end" dominant-baseline="central" font-size="13.6" font-family='"Liberation Serif", "Noto Serif CJK SC", serif' fill="#2a2a2a" stroke="#2a2a2a" stroke-width="0.25">55</text>
<text transform="translate(904.14,48.2) rotate(90) scale(1.1,1)" text-anchor="end" dominant-baseline="central" font-size="13.6" font-family='"Liberation Serif", "Noto Serif CJK SC", serif' fill="#2a2a2a" stroke="#2a2a2a" stroke-width="0.25">65</text>
<text transform="translate(936.33,48.2) rotate(90) scale(1.1,1)" text-anchor="end" dominant-baseline="central" font-size="13.6" font-family='"Liberation Serif", "Noto Serif CJK SC", serif' fill="#2a2a2a" stroke="#2a2a2a" stroke-width="0.25">75</text>
<text transform="translate(710.7,48.2) rotate(90) scale(1.1,1)" text-anchor="end" dominant-baseline="central" font-size="13.6" font-family='"Liberation Serif", "Noto Serif CJK SC", serif' fill="#2a2a2a" stroke="#2a2a2a" stroke-width="0.25">5</text>
<text transform="translate(699.8,51.4) rotate(90) scale(1.135,1)" text-anchor="middle" dominant-baseline="central" font-size="13.4" font-family='"Liberation Serif", "Noto Serif CJK SC", serif' fill="#2a2a2a" stroke="#2a2a2a" stroke-width="0.25">0</text>
<text transform="translate(699.8,75) rotate(90) scale(1.135,1)" text-anchor="middle" dominant-baseline="central" font-size="13.4" font-family='"Liberation Serif", "Noto Serif CJK SC", serif' fill="#2a2a2a" stroke="#2a2a2a" stroke-width="0.25">20</text>
<text transform="translate(699.8,99) rotate(90) scale(1.135,1)" text-anchor="middle" dominant-baseline="central" font-size="13.4" font-family='"Liberation Serif", "Noto Serif CJK SC", serif' fill="#2a2a2a" stroke="#2a2a2a" stroke-width="0.25">40</text>
<text transform="translate(699.8,123.9) rotate(90) scale(1.135,1)" text-anchor="middle" dominant-baseline="central" font-size="13.4" font-family='"Liberation Serif", "Noto Serif CJK SC", serif' fill="#2a2a2a" stroke="#2a2a2a" stroke-width="0.25">60</text>
<text transform="translate(699.8,147.7) rotate(90) scale(1.135,1)" text-anchor="middle" dominant-baseline="central" font-size="13.4" font-family='"Liberation Serif", "Noto Serif CJK SC", serif' fill="#2a2a2a" stroke="#2a2a2a" stroke-width="0.25">80</text>
<text transform="translate(699.8,171.5) rotate(90) scale(1.135,1)" text-anchor="middle" dominant-baseline="central" font-size="13.4" font-family='"Liberation Serif", "Noto Serif CJK SC", serif' fill="#2a2a2a" stroke="#2a2a2a" stroke-width="0.25">100</text>
<text transform="translate(699.8,195.4) rotate(90) scale(1.135,1)" text-anchor="middle" dominant-baseline="central" font-size="13.4" font-family='"Liberation Serif", "Noto Serif CJK SC", serif' fill="#2a2a2a" stroke="#2a2a2a" stroke-width="0.25">120</text>
<text transform="translate(699.8,219.5) rotate(90) scale(1.135,1)" text-anchor="middle" dominant-baseline="central" font-size="13.4" font-family='"Liberation Serif", "Noto Serif CJK SC", serif' fill="#2a2a2a" stroke="#2a2a2a" stroke-width="0.25">140</text>
<text transform="translate(699.8,243.8) rotate(90) scale(1.135,1)" text-anchor="middle" dominant-baseline="central" font-size="13.4" font-family='"Liberation Serif", "Noto Serif CJK SC", serif' fill="#2a2a2a" stroke="#2a2a2a" stroke-width="0.25">160</text>
<text transform="translate(699.8,267.3) rotate(90) scale(1.135,1)" text-anchor="middle" dominant-baseline="central" font-size="13.4" font-family='"Liberation Serif", "Noto Serif CJK SC", serif' fill="#2a2a2a" stroke="#2a2a2a" stroke-width="0.25">180</text>
<text transform="translate(699.8,292) rotate(90) scale(1.135,1)" text-anchor="middle" dominant-baseline="central" font-size="13.4" font-family='"Liberation Serif", "Noto Serif CJK SC", serif' fill="#2a2a2a" stroke="#2a2a2a" stroke-width="0.25">200</text>
<text transform="translate(699.8,316.4) rotate(90) scale(1.135,1)" text-anchor="middle" dominant-baseline="central" font-size="13.4" font-family='"Liberation Serif", "Noto Serif CJK SC", serif' fill="#2a2a2a" stroke="#2a2a2a" stroke-width="0.25">220</text>
<text transform="translate(699.8,340.6) rotate(90) scale(1.135,1)" text-anchor="middle" dominant-baseline="central" font-size="13.4" font-family='"Liberation Serif", "Noto Serif CJK SC", serif' fill="#2a2a2a" stroke="#2a2a2a" stroke-width="0.25">240</text>
<text transform="translate(710.7,356.6) rotate(90) scale(1.1,1)" text-anchor="start" dominant-baseline="central" font-size="13.6" font-family='"Liberation Serif", "Noto Serif CJK SC", serif' fill="#2a2a2a" stroke="#2a2a2a" stroke-width="0.25">0</text>
<text transform="translate(755.76,356.6) rotate(90) scale(1.1,1)" text-anchor="start" dominant-baseline="central" font-size="13.6" font-family='"Liberation Serif", "Noto Serif CJK SC", serif' fill="#2a2a2a" stroke="#2a2a2a" stroke-width="0.25">20</text>
<text transform="translate(800.82,356.6) rotate(90) scale(1.1,1)" text-anchor="start" dominant-baseline="central" font-size="13.6" font-family='"Liberation Serif", "Noto Serif CJK SC", serif' fill="#2a2a2a" stroke="#2a2a2a" stroke-width="0.25">40</text>
<text transform="translate(845.88,356.6) rotate(90) scale(1.1,1)" text-anchor="start" dominant-baseline="central" font-size="13.6" font-family='"Liberation Serif", "Noto Serif CJK SC", serif' fill="#2a2a2a" stroke="#2a2a2a" stroke-width="0.25">60</text>
<text transform="translate(890.94,356.6) rotate(90) scale(1.1,1)" text-anchor="start" dominant-baseline="central" font-size="13.6" font-family='"Liberation Serif", "Noto Serif CJK SC", serif' fill="#2a2a2a" stroke="#2a2a2a" stroke-width="0.25">80</text>
<text transform="translate(936,356.6) rotate(90) scale(1.1,1)" text-anchor="start" dominant-baseline="central" font-size="13.6" font-family='"Liberation Serif", "Noto Serif CJK SC", serif' fill="#2a2a2a" stroke="#2a2a2a" stroke-width="0.25">100</text>
<path d="M901.8,51.6L854.9,74.9L800.4,98.8L784.9,123.8L780.8,159.8L768.8,194.9L761,266.8L756.3,340.8" stroke="#1a1a1a" stroke-width="1.2" fill="none"/>
<path d="M734,51.6L765.2,74.9L800,98.8L826.7,123.8L826,159.8L834.3,194.9L836.9,266.8L840.3,340.8" stroke="#c8123a" stroke-width="1.2" fill="none"/>
<path d="M894.8,51.6H908.8M894.8,49V54.2M908.8,49V54.2" stroke="#1e1e1e" stroke-width="1.0" fill="none"/>
<path d="M784.8,98.8H816.8M784.8,96.2V101.4M816.8,96.2V101.4" stroke="#1e1e1e" stroke-width="1.0" fill="none"/>
<path d="M722.5,51.6H748.5M722.5,49V54.2M748.5,49V54.2" stroke="#2a2a2a" stroke-width="1.0" fill="none"/>
<path d="M752.3,74.9H778.4M752.3,72.3V77.5M778.4,72.3V77.5" stroke="#2a2a2a" stroke-width="1.0" fill="none"/>
<path d="M788.8,98.8H811.5M788.8,96.2V101.4M811.5,96.2V101.4" stroke="#2a2a2a" stroke-width="1.0" fill="none"/>
<path d="M814.6,123.8H844.3M814.6,121.2V126.4M844.3,121.2V126.4" stroke="#2a2a2a" stroke-width="1.0" fill="none"/>
<path d="M812.5,159.8H841.5M812.5,157.2V162.4M841.5,157.2V162.4" stroke="#2a2a2a" stroke-width="1.0" fill="none"/>
<path d="M820.5,194.9H849.3M820.5,192.3V197.5M849.3,192.3V197.5" stroke="#2a2a2a" stroke-width="1.0" fill="none"/>
<path d="M826.4,266.8H849.3M826.4,264.2V269.4M849.3,264.2V269.4" stroke="#2a2a2a" stroke-width="1.0" fill="none"/>
<path d="M835.3,340.8H847.3M835.3,338.2V343.4M847.3,338.2V343.4" stroke="#2a2a2a" stroke-width="1.0" fill="none"/>
<rect x="898.7" y="48.5" width="6.2" height="6.2" fill="#1a1a1a"/>
<rect x="851.8" y="71.8" width="6.2" height="6.2" fill="#1a1a1a"/>
<rect x="797.3" y="95.7" width="6.2" height="6.2" fill="#1a1a1a"/>
<rect x="781.8" y="120.7" width="6.2" height="6.2" fill="#1a1a1a"/>
<rect x="777.7" y="156.7" width="6.2" height="6.2" fill="#1a1a1a"/>
<rect x="765.7" y="191.8" width="6.2" height="6.2" fill="#1a1a1a"/>
<rect x="757.9" y="263.7" width="6.2" height="6.2" fill="#1a1a1a"/>
<rect x="753.2" y="337.7" width="6.2" height="6.2" fill="#1a1a1a"/>
<path d="M737.2,51.6L731.4,48.4L731.4,54.8Z" fill="#c8123a"/>
<path d="M768.4,74.9L762.6,71.7L762.6,78.1Z" fill="#c8123a"/>
<path d="M803.2,98.8L797.4,95.6L797.4,102Z" fill="#c8123a"/>
<path d="M829.9,123.8L824.1,120.6L824.1,127Z" fill="#c8123a"/>
<path d="M829.2,159.8L823.4,156.6L823.4,163Z" fill="#c8123a"/>
<path d="M837.5,194.9L831.7,191.7L831.7,198.1Z" fill="#c8123a"/>
<path d="M840.1,266.8L834.3,263.6L834.3,270Z" fill="#c8123a"/>
<path d="M843.5,340.8L837.7,337.6L837.7,344Z" fill="#c8123a"/>
<path d="M940.5,250V263" stroke="#1a1a1a" stroke-width="1"/>
<rect x="937.8" y="253.8" width="5.4" height="5.4" fill="#1a1a1a"/>
<path d="M924.6,250V263" stroke="#c8123a" stroke-width="1"/>
<path d="M927.6,256.5L921.8,253.5L921.8,259.5Z" fill="#c8123a"/>
<rect x="901.8" y="252.8" width="7.4" height="7.4" fill="#039de0"/>
<text transform="translate(939,268.5) rotate(90) scale(1.15,1)" text-anchor="start" dominant-baseline="central" font-size="12.6" font-family='"Liberation Serif", "Noto Serif CJK SC", serif' fill="#2a2a2a">硝态氮</text>
<text transform="translate(922.4,267.8) rotate(90) scale(1.15,1)" text-anchor="start" dominant-baseline="central" font-size="12.6" font-family='"Liberation Serif", "Noto Serif CJK SC", serif' fill="#2a2a2a">亚硝态氮</text>
<text transform="translate(905.5,268.5) rotate(90) scale(1.1,1)" text-anchor="start" dominant-baseline="central" font-size="12.2" font-family='"Liberation Serif", "Noto Serif CJK SC", serif' fill="#2a2a2a">NTR</text>
<text fill="#2a2a2a" stroke="#2a2a2a" stroke-width="0.2"><tspan x="827.3" y="24.3" font-size="15" font-family='"Liberation Serif", "Noto Serif CJK SC", serif'>/</tspan><tspan x="833.9" y="23.9" font-size="15" font-family='"Liberation Serif", "Noto Serif CJK SC", serif'>(</tspan><tspan x="840.6" y="24.9" font-size="15" font-family='"Liberation Serif", "Noto Serif CJK SC", serif'>mg</tspan><tspan x="859" y="26.2" font-size="16" font-family='"Liberation Serif", "Noto Serif CJK SC", serif'>·</tspan><tspan x="865.7" y="24.9" font-size="15" font-family='"Liberation Serif", "Noto Serif CJK SC", serif'>L</tspan><tspan x="874.7" y="18.4" font-size="8" font-family='"Liberation Serif", "Noto Serif CJK SC", serif'>−</tspan><tspan x="878.9" y="19" font-size="8" font-family='"Liberation Serif", "Noto Serif CJK SC", serif'>1</tspan><tspan x="884.4" y="23.9" font-size="15" font-family='"Liberation Serif", "Noto Serif CJK SC", serif'>)</tspan></text>
<text transform="translate(769,24.9) scale(1.07,1)" font-size="13.6" font-family='"Liberation Serif", "Noto Serif CJK SC", serif' fill="#2a2a2a" stroke="#2a2a2a" stroke-width="0.1">氮素浓度</text>
<text x="807.7" y="397.8" font-size="14.4" stroke="#2a2a2a" stroke-width="0.4" textLength="43.6" lengthAdjust="spacingAndGlyphs" font-family='"Liberation Serif", "Noto Serif CJK SC", serif' fill="#2a2a2a">NTR/%</text>
<text transform="translate(678.2,204.7) rotate(90)" text-anchor="middle" dominant-baseline="central" font-size="15.2" font-family='"Liberation Serif", "Noto Serif CJK SC", serif' fill="#2a2a2a" stroke="#2a2a2a" stroke-width="0.2"><tspan font-style="italic">t</tspan>/min</text>
<text transform="translate(660.4,205.8) rotate(90)" text-anchor="middle" dominant-baseline="central" font-size="15.3" font-family='"Liberation Serif", "Noto Serif CJK SC", serif' fill="#2a2a2a" stroke="#2a2a2a" stroke-width="0.15">a. 一次性投加</text>
</svg>
</body></html>
